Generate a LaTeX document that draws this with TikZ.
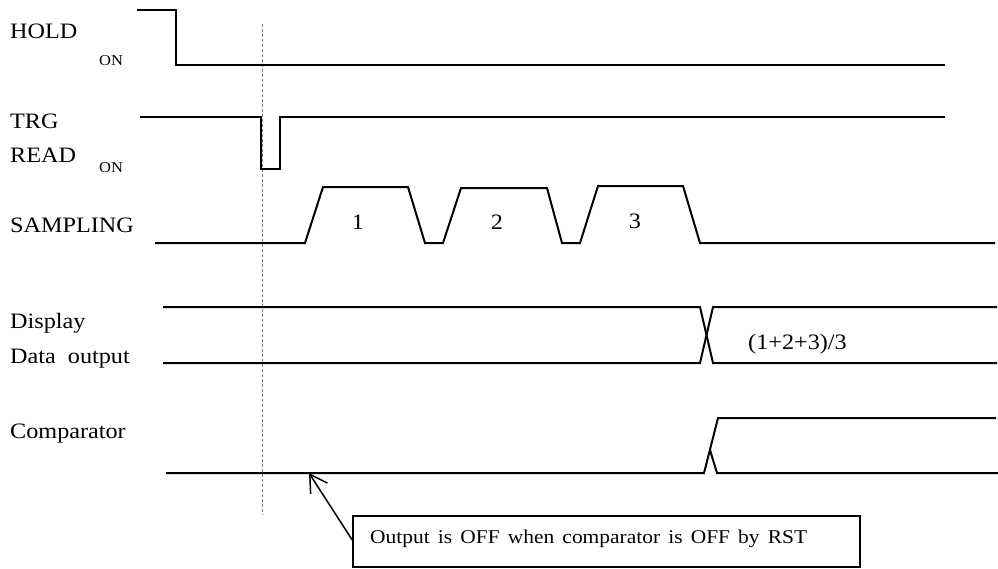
\documentclass[tikz,border=0pt]{standalone}
\usepackage{fontspec}
\setmainfont{Liberation Serif}[FakeStretch=1.1]
\usetikzlibrary{arrows.meta}
\begin{document}
\begin{tikzpicture}[x=1pt,y=-1pt,
  sig/.style={line width=2pt, line join=miter},
  lbl/.style={anchor=base west, inner sep=0pt, font=\fontsize{22}{25}\selectfont},
  sublbl/.style={anchor=base west, inner sep=0pt, font=\fontsize{15}{17}\selectfont},
  numlbl/.style={anchor=base, inner sep=0pt, font=\fontsize{22}{25}\selectfont},
  guide/.style={gray, line width=0.8pt, dash pattern=on 3pt off 2pt},
  notebox/.style={draw, line width=1.5pt, minimum width=507pt, minimum height=51pt, inner sep=0pt},
  notetext/.style={anchor=base west, inner sep=0pt, font=\fontsize{19.5}{22}\selectfont}]
\useasboundingbox (0,0) rectangle (998,568);

% labels
\node[lbl] (hold) at (10,38) {HOLD};
\node[sublbl] (holdon) at (99,65) {ON};
\node[lbl] (trg) at (10,128) {TRG};
\node[lbl] (read) at (10,162) {READ};
\node[sublbl] (readon) at (99,172) {ON};
\node[lbl] (sampling) at (10,232) {SAMPLING};
\node[lbl] (display) at (10,328) {Display};
\node[lbl] (dataout) at (10,363) {Data\ \ output};
\node[lbl] (comp) at (10,438) {Comparator};

% guide line
\draw[guide] (262,24) -- (262,515);

% HOLD
\draw[sig] (137,10) -- (176,10) -- (176,65) -- (945,65);
% TRG
\draw[sig] (140,117) -- (261,117) -- (261,169) -- (280,169) -- (280,117) -- (945,117);
% SAMPLING
\draw[sig] (155,243) -- (305,243) -- (323,187) -- (408,187) -- (425,243)
  -- (443,243) -- (461,188) -- (547,188) -- (562,243)
  -- (580,243) -- (598,186) -- (683,186) -- (700,243) -- (995,243);
\node[numlbl] (s1) at (358,229) {1};
\node[numlbl] (s2) at (497,229) {2};
\node[numlbl] (s3) at (635,228) {3};
% Display / Data output
\draw[sig] (163,307) -- (700,307) -- (713,363) -- (997,363);
\draw[sig] (163,363) -- (700,363) -- (713,307) -- (997,307);
\node[lbl] (avg) at (748,349) {(1+2+3)/3};
% Comparator
\draw[sig] (166,473) -- (704,473) -- (718,418) -- (996,418);
\draw[sig] (710,450) -- (717,473) -- (998,473);

% callout
\node[notebox] (note) at (606.5,541.5) {};
\node[notetext] (notetxt) at (370,543) {\makebox[437pt][s]{Output is OFF when comparator is OFF by RST}};
\coordinate (tip) at (309,473);
\draw[line width=1.5pt, -{Straight Barb[length=17pt,width=20pt,line width=1.5pt]}] ([yshift=1.5pt]note.west) -- (tip);
\end{tikzpicture}
\end{document}
